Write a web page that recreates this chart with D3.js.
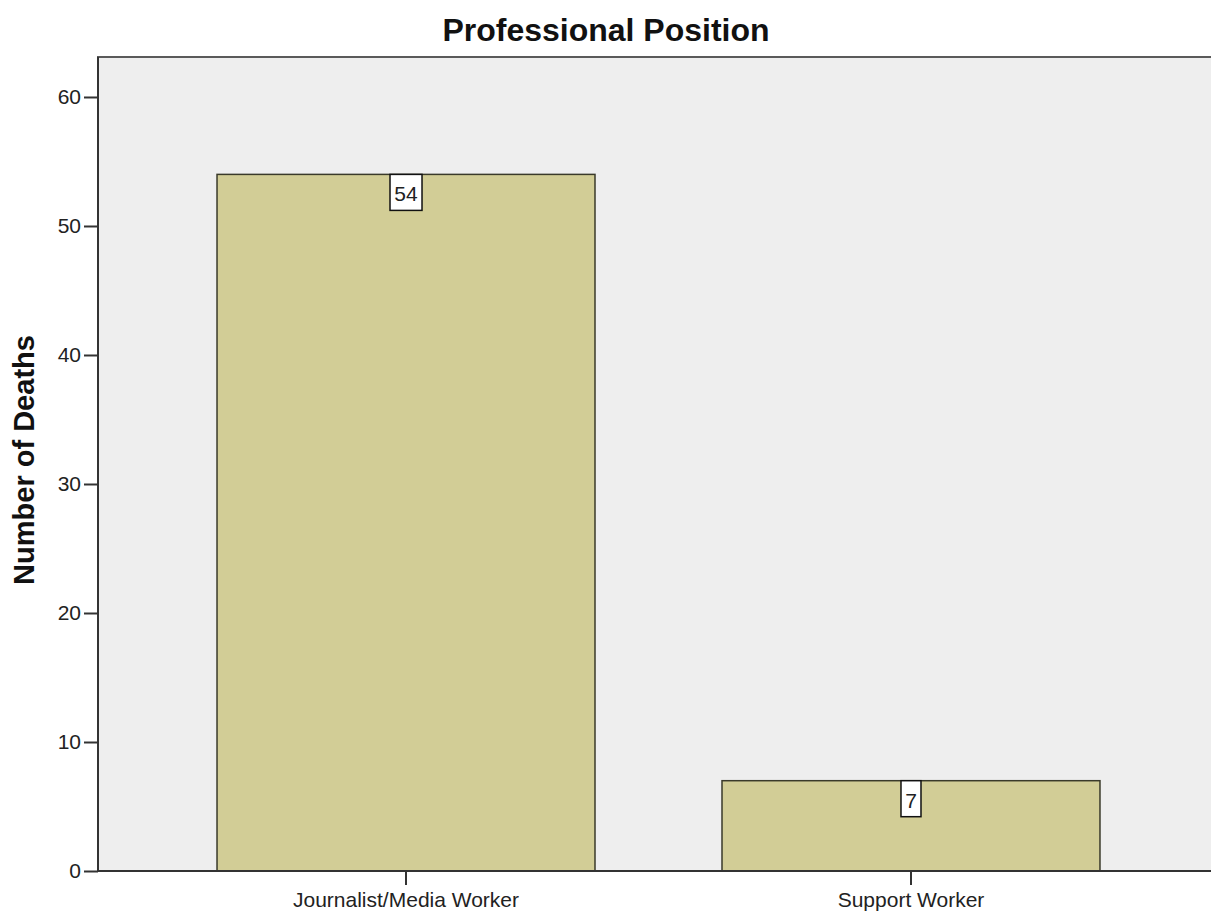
<!DOCTYPE html>
<html>
<head>
<meta charset="utf-8">
<script src="https://cdn.jsdelivr.net/npm/d3@7"></script>
<style>
  body { margin: 0; background: #fff; }
  text { font-family: "Liberation Sans", Arial, sans-serif; }
</style>
</head>
<body>
<div id="chart"></div>
<script>
// data
var categories = ["Journalist/Media Worker", "Support Worker"];
var deaths     = [54, 7];
var yTicks     = [0, 10, 20, 30, 40, 50, 60];

var width  = 1211;
var height = 916;

var plot = {};
plot.left   = 98;
plot.top    = 57;
plot.right  = 1219;   // plot frame runs past the window edge
plot.bottom = 871;

var svg = d3.select("#chart")
  .append("svg")
  .attr("width", width)
  .attr("height", height);

var x = d3.scaleBand()
  .domain(categories)
  .range([plot.left, plot.right])
  .paddingInner(0.2515)
  .paddingOuter(0.2357);

var y = d3.scaleLinear()
  .domain([0, 63.1])
  .range([plot.bottom, plot.top]);

// Plot background and frame
svg.append("rect")
  .attr("x", plot.left)
  .attr("y", plot.top)
  .attr("width", plot.right - plot.left)
  .attr("height", plot.bottom - plot.top)
  .style("fill", "#eeeeee")
  .style("stroke", "#5a5a5a")
  .style("stroke-width", "2px");

// Bars
svg.selectAll("rect.bar")
  .data(deaths)
  .enter()
  .append("rect")
  .attr("class", "bar")
  .attr("x", function(d, i) { return x(categories[i]); })
  .attr("y", function(d) { return y(d); })
  .attr("width", x.bandwidth())
  .attr("height", function(d) { return y(0) - y(d); })
  .style("fill", "#d2cd96")
  .style("stroke", "#3a3a2a")
  .style("stroke-width", "1.5px");

// Axes lines
svg.append("line")
  .attr("x1", plot.left).attr("x2", plot.left)
  .attr("y1", plot.top).attr("y2", plot.bottom)
  .style("stroke", "#333")
  .style("stroke-width", "2px");
svg.append("line")
  .attr("x1", plot.left).attr("x2", width)
  .attr("y1", plot.bottom).attr("y2", plot.bottom)
  .style("stroke", "#333")
  .style("stroke-width", "2px");

// Y axis
var yAxis = svg.append("g")
  .attr("transform", "translate(" + plot.left + ",0)")
  .call(d3.axisLeft(y).tickValues(yTicks).tickSize(14).tickPadding(3));
yAxis.select(".domain").remove();
yAxis.selectAll("line").style("stroke", "#333").style("stroke-width", "2px");
yAxis.selectAll("text")
  .attr("font-size", 21)
  .attr("font-family", "\"Liberation Sans\", Arial, sans-serif")
  .style("fill", "#222");

// X axis
var xAxis = svg.append("g")
  .attr("transform", "translate(0," + plot.bottom + ")")
  .call(d3.axisBottom(x).tickSize(14).tickPadding(7));
xAxis.select(".domain").remove();
xAxis.selectAll("line").style("stroke", "#333").style("stroke-width", "2px");
xAxis.selectAll("text")
  .attr("font-size", 21)
  .attr("font-family", "\"Liberation Sans\", Arial, sans-serif")
  .style("fill", "#222");

// Value labels in boxes
var labels = svg.selectAll("g.vlabel")
  .data(deaths)
  .enter()
  .append("g")
  .attr("class", "vlabel")
  .attr("transform", function(d, i) {
    return "translate(" + (x(categories[i]) + x.bandwidth() / 2) + "," + y(d) + ")";
  });

labels.append("rect")
  .attr("x", function(d) { return String(d).length > 1 ? -16 : -10; })
  .attr("y", 0)
  .attr("width", function(d) { return String(d).length > 1 ? 32 : 20; })
  .attr("height", 36)
  .style("fill", "#fff")
  .style("stroke", "#111")
  .style("stroke-width", "1.5px");

labels.append("text")
  .attr("x", 0)
  .attr("y", 27)
  .attr("text-anchor", "middle")
  .attr("font-size", 21)
  .style("fill", "#222")
  .text(function(d) { return d; });

// Title
svg.append("text")
  .attr("x", 606)
  .attr("y", 41)
  .attr("text-anchor", "middle")
  .attr("font-size", 32)
  .attr("font-weight", "bold")
  .style("fill", "#111")
  .text("Professional Position");

// Y axis title
svg.append("text")
  .attr("transform", "translate(34,460) rotate(-90)")
  .attr("text-anchor", "middle")
  .attr("font-size", 29)
  .attr("font-weight", "bold")
  .style("fill", "#111")
  .text("Number of Deaths");
</script>
</body>
</html>
